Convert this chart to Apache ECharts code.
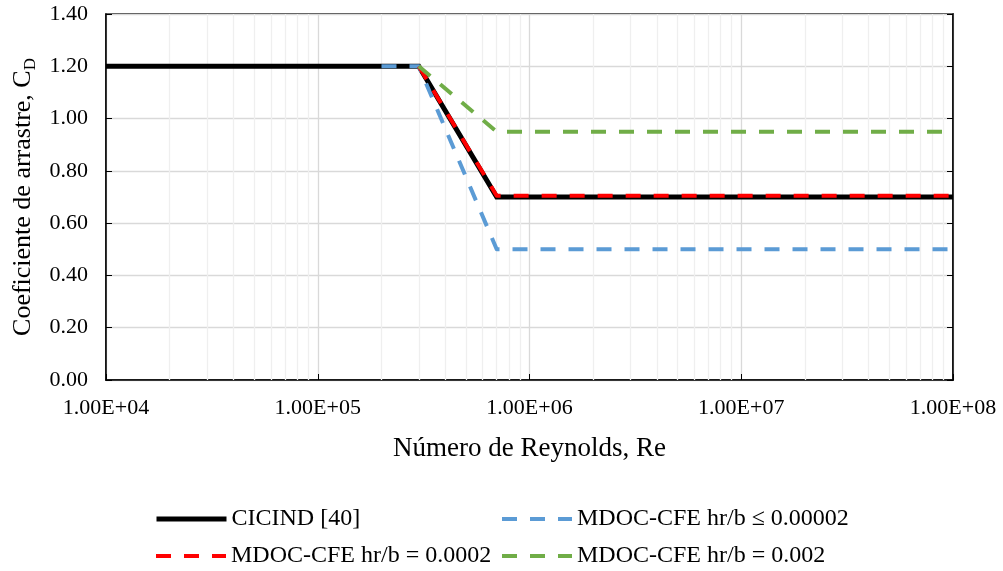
<!DOCTYPE html>
<html>
<head>
<meta charset="utf-8">
<title>Coeficiente de arrastre vs Número de Reynolds</title>
<script src="https://cdn.jsdelivr.net/npm/echarts@6/dist/echarts.min.js"></script>
<style>
  html, body { margin: 0; padding: 0; background: #fff; }
  #chart { width: 1003px; height: 571px; }
</style>
</head>
<body>
<div id="chart"></div>
<script>
// Drag coefficient curves: Reynolds number (x) and C_D (y) for each source
const cicindRe = [1e4, 3e5, 7e5, 1e8];
const cicindCd = [1.2, 1.2, 0.7, 0.7];

const mdocLowRe = [2e5, 3e5, 7e5, 1e8];
const mdocLowCd = [1.2, 1.2, 0.5, 0.5];

const mdocMidRe = [3e5, 7e5, 1e8];
const mdocMidCd = [1.2, 0.705, 0.705];

const mdocHighRe = [3e5, 7e5, 1e8];
const mdocHighCd = [1.2, 0.95, 0.95];

const seriesNames = [
  'CICIND [40]',
  'MDOC-CFE hr/b \u2264 0.00002',
  'MDOC-CFE hr/b = 0.0002',
  'MDOC-CFE hr/b = 0.002'
];

const decades = [1e4, 1e5, 1e6, 1e7, 1e8];

// minor log gridlines at 2..9 times each decade
const minorGrid = [];
for (let d = 0; d < decades.length - 1; d++) {
  for (let m = 2; m <= 9; m++) minorGrid.push(decades[d] * m);
}

const FONT = '"Liberation Serif", "Times New Roman", serif';
const DASH = [15, 13];

function pairs(xs, ys) { return xs.map((x, i) => [x, ys[i]]); }

function sciLabel(v) {
  const exp = Math.round(Math.log10(v));
  const mant = v / Math.pow(10, exp);
  const e = (exp < 0 ? '-' : '+') + String(Math.abs(exp)).padStart(2, '0');
  return mant.toFixed(2) + 'E' + e;
}

const dashed = (color) => ({
  color: color, width: 4, type: DASH, cap: 'butt', join: 'round'
});

const chart = echarts.init(document.getElementById('chart'), null, { renderer: 'canvas' });

function legendAt(name, left, top, solid) {
  return {
    data: [name],
    left: left,
    top: top,
    orient: 'horizontal',
    itemWidth: 70,
    itemHeight: 14,
    itemGap: 6,
    itemStyle: { opacity: 0 },
    lineStyle: solid ? { width: 5, type: 'solid' } : { width: 4, type: DASH, cap: 'butt' },
    textStyle: { fontFamily: FONT, fontSize: 24, color: '#000' },
    selectedMode: false
  };
}

chart.setOption({
  animation: false,
  backgroundColor: '#fff',
  grid: {
    left: 106, right: 50, top: 14, bottom: 191,
    show: true, borderColor: '#000', borderWidth: 1.5
  },
  legend: [
    legendAt(seriesNames[0], 149, 502, true),
    legendAt(seriesNames[1], 495, 502, false),
    legendAt(seriesNames[2], 149, 539, false),
    legendAt(seriesNames[3], 495, 539, false)
  ],
  xAxis: {
    type: 'log',
    logBase: 10,
    min: 1e4,
    max: 1e8,
    name: 'Número de Reynolds, Re',
    nameLocation: 'middle',
    nameGap: 55,
    nameTextStyle: { fontFamily: FONT, fontSize: 27, color: '#000' },
    axisLine: { show: true, lineStyle: { color: '#000', width: 1.5 } },
    axisTick: { show: true, inside: true, length: 6, lineStyle: { color: '#000', width: 1 } },
    axisLabel: {
      fontFamily: FONT, fontSize: 22, color: '#000', margin: 17,
      formatter: sciLabel
    },
    splitLine: { show: true, lineStyle: { color: '#d9d9d9', width: 1.3 } }
  },
  yAxis: [
    {
      type: 'value',
      min: 0,
      max: 1.4,
      interval: 0.2,
      name: '{a|Coeficiente de arrastre, C}{b|D}',
      nameLocation: 'middle',
      nameGap: 66,
      nameRotate: 90,
      nameTextStyle: {
        rich: {
          a: { fontFamily: FONT, fontSize: 26, color: '#000', lineHeight: 30, verticalAlign: 'middle' },
          b: { fontFamily: FONT, fontSize: 17, color: '#000', lineHeight: 17, verticalAlign: 'bottom' }
        }
      },
      axisLine: { show: true, lineStyle: { color: '#000', width: 1.5 } },
      axisTick: { show: true, inside: true, length: 6, lineStyle: { color: '#000', width: 1 } },
      axisLabel: {
        fontFamily: FONT, fontSize: 22, color: '#000', margin: 18,
        formatter: (v) => v.toFixed(2)
      },
      splitLine: { show: true, lineStyle: { color: '#d9d9d9', width: 1.3 } }
    },
    {
      // mirrored right edge with inward ticks only
      type: 'value',
      position: 'right',
      min: 0,
      max: 1.4,
      interval: 0.2,
      axisLine: { show: true, lineStyle: { color: '#000', width: 1.5 } },
      axisTick: { show: true, inside: true, length: 6, lineStyle: { color: '#000', width: 1 } },
      axisLabel: { show: false },
      splitLine: { show: false }
    }
  ],
  series: [
    {
      // light minor gridlines between decades
      type: 'line',
      data: [],
      silent: true,
      z: 1,
      markLine: {
        z: 1,
        silent: true,
        animation: false,
        symbol: 'none',
        label: { show: false },
        emphasis: { disabled: true },
        lineStyle: { color: '#efefef', width: 1.3, type: 'solid' },
        data: minorGrid.map((v) => ({ xAxis: v }))
      }
    },
    {
      name: seriesNames[0],
      type: 'line',
      data: pairs(cicindRe, cicindCd),
      symbol: 'none',
      z: 10,
      lineStyle: { color: '#000', width: 5, join: 'miter' },
      itemStyle: { color: '#000' }
    },
    {
      name: seriesNames[1],
      type: 'line',
      data: pairs(mdocLowRe, mdocLowCd),
      symbol: 'none',
      z: 11,
      lineStyle: dashed('#5b9bd5'),
      itemStyle: { color: '#5b9bd5' }
    },
    {
      name: seriesNames[2],
      type: 'line',
      data: pairs(mdocMidRe, mdocMidCd),
      symbol: 'none',
      z: 12,
      lineStyle: dashed('#ff0000'),
      itemStyle: { color: '#ff0000' }
    },
    {
      name: seriesNames[3],
      type: 'line',
      data: pairs(mdocHighRe, mdocHighCd),
      symbol: 'none',
      z: 13,
      lineStyle: dashed('#70ad47'),
      itemStyle: { color: '#70ad47' }
    }
  ]
});
</script>
</body>
</html>
